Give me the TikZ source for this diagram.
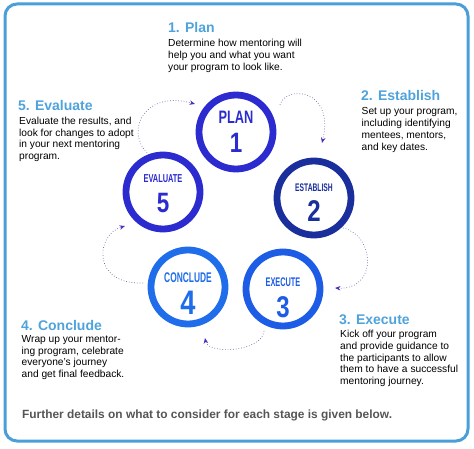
\documentclass[tikz,border=0pt]{standalone}
\usepackage{fontspec}
\usepackage{graphicx}
\setmainfont{Liberation Sans}
\usetikzlibrary{arrows.meta}
\definecolor{framec}{HTML}{4A9FD8}
\definecolor{headc}{HTML}{4FA3DC}
\definecolor{planc}{HTML}{2B2BD0}
\definecolor{estc}{HTML}{1A2E9C}
\definecolor{exec}{HTML}{1D5CE4}
\definecolor{concc}{HTML}{1F6DEB}
\definecolor{dotc}{HTML}{6E6AA8}
\definecolor{arrc}{HTML}{4433BB}
\definecolor{footc}{HTML}{555555}
\begin{document}
\begin{tikzpicture}[x=1pt,y=-1pt,
  ring/.style={circle, minimum size=74pt, inner sep=0pt, line width=6.8pt, fill=white},
  head/.style={anchor=base west, inner sep=0pt, text=headc, font=\bfseries\fontsize{14}{16}\selectfont},
  body/.style={anchor=north west, inner sep=0pt, align=left, text=black, font=\fontsize{10.2}{11.8}\selectfont},
  lbl/.style={inner sep=0pt, font=\bfseries},
  flow/.style={dotted, line width=0.7pt, draw=dotc, -{Stealth[length=5.5pt,width=4.5pt,color=arrc]}}
]
\useasboundingbox (0,0) rectangle (474,449);
\draw[framec, line width=3pt, rounded corners=12pt] (5,4) rectangle (468,441);

% circles
\node[ring, draw=planc] (plan) at (236,132) {};
\node[ring, draw=estc] (est) at (314,198) {};
\node[ring, draw=exec] (exe) at (283,289) {};
\node[ring, draw=concc] (conc) at (188,287) {};
\node[ring, draw=planc] (eval) at (163,192) {};

% circle labels
\node[lbl, text=planc, font=\bfseries\fontsize{18}{18}\selectfont] (planl) at (236,117.5) {\scalebox{0.71}[1]{PLAN}};
\node[lbl, text=planc, font=\bfseries\fontsize{28}{28}\selectfont] (plann) at (236,143) {\scalebox{0.8}[1]{1}};
\node[lbl, text=estc, font=\bfseries\fontsize{11}{11}\selectfont] (estl) at (314,188) {\scalebox{0.61}[1]{ESTABLISH}};
\node[lbl, text=estc, font=\bfseries\fontsize{30}{30}\selectfont] (estn) at (314,211) {\scalebox{0.8}[1]{2}};
\node[lbl, text=exec, font=\bfseries\fontsize{12.5}{12.5}\selectfont] (exel) at (283,282.5) {\scalebox{0.59}[1]{EXECUTE}};
\node[lbl, text=exec, font=\bfseries\fontsize{30}{30}\selectfont] (exen) at (283,307) {\scalebox{0.8}[1]{3}};
\node[lbl, text=concc, font=\bfseries\fontsize{14}{14}\selectfont] (concl) at (188,278) {\scalebox{0.6}[1]{CONCLUDE}};
\node[lbl, text=concc, font=\bfseries\fontsize{34}{34}\selectfont] (concn) at (188,302.5) {\scalebox{0.8}[1]{4}};
\node[lbl, text=planc, font=\bfseries\fontsize{11.5}{11.5}\selectfont] (evall) at (163,179) {\scalebox{0.645}[1]{EVALUATE}};
\node[lbl, text=planc, font=\bfseries\fontsize{28}{28}\selectfont] (evaln) at (163,203) {\scalebox{0.8}[1]{5}};

% texts
\node[head] (h1) at (168,33) {1. Plan};
\node[body] (b1) at (168,39) {Determine how mentoring will\\help you and what you want\\your program to look like.};
\node[head] (h2) at (361,100.7) {2. Establish};
\node[body] (b2) at (361.5,107.3) {Set up your program,\\including identifying\\mentees, mentors,\\and key dates.};
\node[head] (h3) at (339,324.3) {3. Execute};
\node[body] (b3) at (340,330) {Kick off your program\\and provide guidance to\\the participants to allow\\them to have a successful\\mentoring journey.};
\node[head] (h4) at (21,330) {4. Conclude};
\node[body] (b4) at (21.5,335) {Wrap up your mentor-\\ing program, celebrate\\everyone's journey\\and get final feedback.};
\node[head] (h5) at (18,110.7) {5. Evaluate};
\node[body] (b5) at (19,116.7) {Evaluate the results, and\\look for changes to adopt\\in your next mentoring\\program.};
\node[anchor=base west, inner sep=0pt, text=footc, font=\bfseries\fontsize{11.9}{13}\selectfont] (foot) at (22,418) {Further details on what to consider for each stage is given below.};

% connectors
\coordinate (a1s) at (280,105);
\coordinate (a1e) at (322,143);
\coordinate (a2s) at (343,228);
\coordinate (a2e) at (335,288);
\coordinate (a3s) at (264,331);
\coordinate (a3e) at (205,338);
\coordinate (a4s) at (143,283);
\coordinate (a4e) at (125,226);
\coordinate (a5s) at (147,153);
\coordinate (a5e) at (195,104);
\draw[flow] (a1s) .. controls (285,85) and (335,88) .. (a1e);
\draw[flow] (a2s) .. controls (375,235) and (378,290) .. (a2e);
\draw[flow] (a3s) .. controls (262,352) and (208,355) .. (a3e);
\draw[flow] (a4s) .. controls (92,285) and (95,235) .. (a4e);
\draw[flow] (a5s) .. controls (125,130) and (145,90) .. (a5e);
\end{tikzpicture}
\end{document}
